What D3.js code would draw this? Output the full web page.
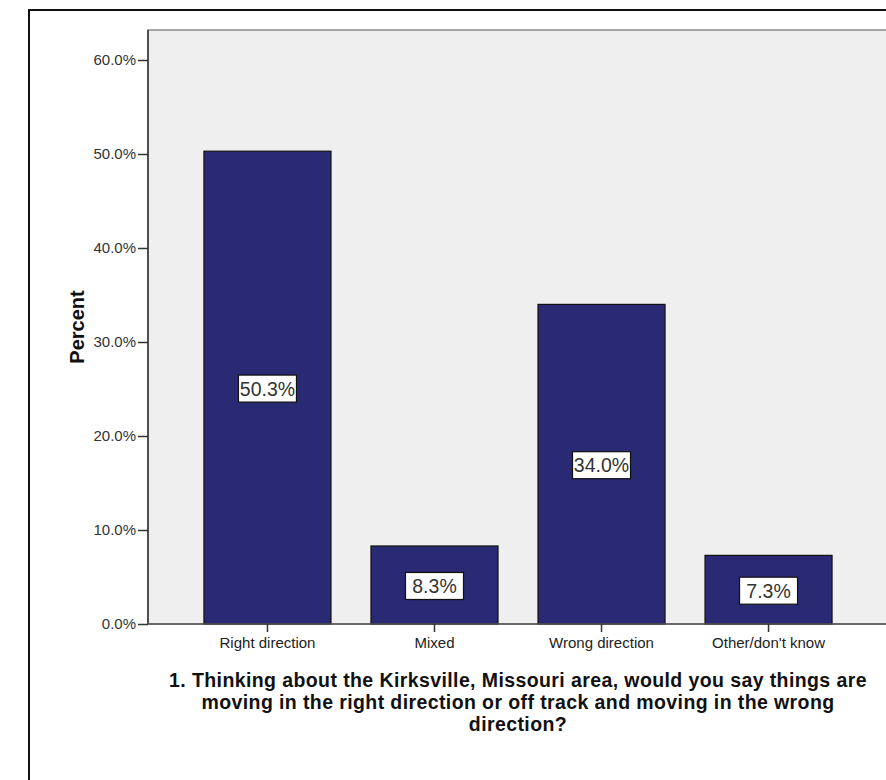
<!DOCTYPE html>
<html>
<head>
<meta charset="utf-8">
<script src="https://cdn.jsdelivr.net/npm/d3@7"></script>
<style>
  html, body { margin: 0; padding: 0; background: #fff; }
  svg { display: block; }
</style>
</head>
<body>
<svg id="chart" width="886" height="780"></svg>
<script>
const categories = ["Right direction", "Mixed", "Wrong direction", "Other/don't know"];
const percents = [50.3, 8.3, 34.0, 7.3];
const yTicks = [0, 10, 20, 30, 40, 50, 60];
const yLabel = "Percent";
const titleLines = [
  "1. Thinking about the Kirksville, Missouri area, would you say things are",
  "moving in the right direction or off track and moving in the wrong",
  "direction?"
];

const svg = d3.select("#chart");
const font = "'Liberation Sans', Arial, sans-serif";

const plot = { left: 148, right: 888, top: 30, bottom: 624 };

// outer frame
svg.append("rect")
  .attr("x", 29).attr("y", 10)
  .attr("width", 900).attr("height", 800)
  .attr("fill", "#fff").attr("stroke", "#111").attr("stroke-width", 2);

// plot background
svg.append("rect")
  .attr("x", plot.left).attr("y", plot.top)
  .attr("width", plot.right - plot.left).attr("height", plot.bottom - plot.top)
  .attr("fill", "#efefef").attr("stroke", "#8c8c8c").attr("stroke-width", 1.5);

const y = d3.scaleLinear().domain([0, 60]).range([plot.bottom, 60]);
const x = d3.scaleBand().domain(categories)
  .range([plot.left, plot.right])
  .paddingInner(0.2395).paddingOuter(0.335);

// bars
svg.append("g").selectAll("rect")
  .data(categories)
  .join("rect")
  .attr("x", d => x(d))
  .attr("y", (d, i) => y(percents[i]))
  .attr("width", x.bandwidth())
  .attr("height", (d, i) => y(0) - y(percents[i]))
  .attr("fill", "#292a73")
  .attr("stroke", "#111")
  .attr("stroke-width", 1.2);

// y axis
const yAxis = d3.axisLeft(y).tickValues(yTicks)
  .tickFormat(d => d.toFixed(1) + "%").tickSize(10).tickPadding(2);
const gy = svg.append("g").attr("transform", `translate(${plot.left},0)`).call(yAxis);
gy.select(".domain").attr("d", `M0,${plot.top}V${plot.bottom}`).attr("stroke", "#333").attr("stroke-width", 1.5);
gy.selectAll(".tick line").attr("stroke", "#333").attr("stroke-width", 1.5);
gy.selectAll(".tick text").attr("font-family", font).attr("font-size", 15).attr("fill", "#333");

// x axis
const xAxis = d3.axisBottom(x).tickSize(8).tickPadding(5);
const gx = svg.append("g").attr("transform", `translate(0,${plot.bottom})`).call(xAxis);
gx.select(".domain").attr("d", `M${plot.left},0H${plot.right}`).attr("stroke", "#555").attr("stroke-width", 1.5);
gx.selectAll(".tick line").attr("stroke", "#333").attr("stroke-width", 1.5);
gx.selectAll(".tick text").attr("font-family", font).attr("font-size", 15).attr("fill", "#222");

// value labels
const lab = svg.append("g").selectAll("g")
  .data(categories)
  .join("g")
  .attr("transform", (d, i) => `translate(${x(d) + x.bandwidth() / 2},${(y(percents[i]) + y(0)) / 2 + 1})`);
lab.append("rect")
  .attr("x", -29).attr("y", -13.5).attr("width", 58).attr("height", 27)
  .attr("fill", "#fff").attr("stroke", "#111").attr("stroke-width", 1.2);
lab.append("text")
  .attr("text-anchor", "middle").attr("dy", "0.36em")
  .attr("font-family", font).attr("font-size", 19.5).attr("fill", "#333")
  .text((d, i) => percents[i].toFixed(1) + "%");

// y title
svg.append("text")
  .attr("transform", "translate(84,327) rotate(-90)")
  .attr("text-anchor", "middle")
  .attr("font-family", font).attr("font-size", 20).attr("font-weight", "bold").attr("fill", "#111")
  .text(yLabel);

// x title
svg.append("g").selectAll("text")
  .data(titleLines)
  .join("text")
  .attr("x", (plot.left + plot.right) / 2)
  .attr("y", (d, i) => 687 + i * 22)
  .attr("text-anchor", "middle")
  .attr("font-family", font).attr("font-size", 19.5).attr("letter-spacing", 0.4)
  .attr("font-weight", "bold").attr("fill", "#111")
  .text(d => d);
</script>
</body>
</html>
